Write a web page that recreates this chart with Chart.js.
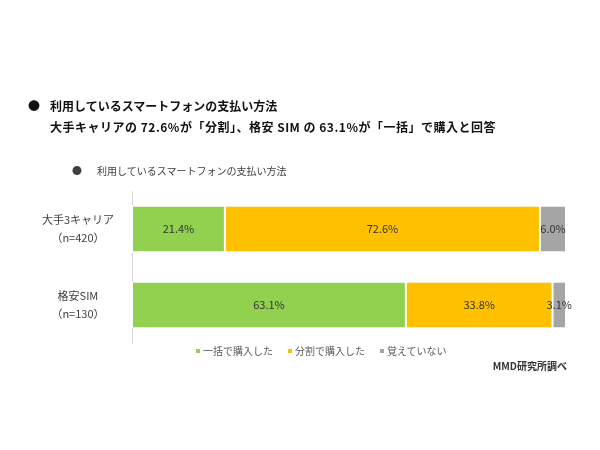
<!DOCTYPE html>
<html>
<head>
<meta charset="utf-8">
<script src="https://cdn.jsdelivr.net/npm/chart.js@4"></script>
<style>
  body { margin: 0; background: #fff; font-family: "Noto Sans CJK JP", "Noto Sans", sans-serif; }
  #wrap { position: relative; width: 600px; height: 450px; }
  #wrap canvas { position: absolute; left: 0; top: 0; }
  .t { position: absolute; white-space: nowrap; line-height: 1; }
  .head { font-size: 12px; font-weight: bold; color: #111; }
  .sub { font-size: 10px; color: #404040; }
  .note { font-size: 10px; color: #333; font-weight: bold; }
  #legend { position: absolute; left: 196px; top: 344px; display: flex; gap: 15px;
            font-size: 10px; color: #595959; line-height: 14px; white-space: nowrap; }
  #legend span.box { display: inline-block; width: 4px; height: 4px; margin-right: 3px; vertical-align: 2px; }
</style>
</head>
<body>
<div id="wrap">
  <canvas id="chart" width="600" height="450"></canvas>
  <div class="t head" style="left:28px; top:100px;">●</div>
  <div class="t head" style="left:50px; top:100px;">利用しているスマートフォンの支払い方法</div>
  <div class="t head" style="left:50px; top:121px; letter-spacing:0.5px;">大手キャリアの 72.6%が「分割」、格安 SIM の 63.1%が「一括」で購入と回答</div>
  <div class="t sub" style="left:72px; top:166px;">●</div>
  <div class="t sub" style="left:97px; top:166px;">利用しているスマートフォンの支払い方法</div>
  <div id="legend"></div>
  <div class="t note" style="right:33px; top:361px;">MMD研究所調べ</div>
</div>
<script>
const categories = [['大手3キャリア', '（n=420）'], ['格安SIM', '（n=130）']];
const seriesNames = ['一括で購入した', '分割で購入した', '覚えていない'];
const lumpSum = [21.4, 63.1];
const installment = [72.6, 33.8];
const dontRemember = [6.0, 3.1];
const colors = ['#92d050', '#ffc000', '#a5a5a5'];

// value labels centred in each segment
const segmentLabels = {
    id: 'segmentLabels',
    afterDatasetsDraw(chart) {
        const ctx = chart.ctx;
        ctx.save();
        ctx.font = '11px "Noto Sans CJK JP", sans-serif';
        ctx.fillStyle = '#333';
        ctx.textAlign = 'center';
        ctx.textBaseline = 'middle';
        chart.data.datasets.forEach((ds, i) => {
            chart.getDatasetMeta(i).data.forEach((bar, j) => {
                const p = bar.getProps(['x', 'y', 'base'], true);
                ctx.fillText(ds.data[j].toFixed(1) + '%', (p.x + p.base) / 2, p.y);
            });
        });
        ctx.restore();
    }
};

const ctx = document.getElementById('chart').getContext('2d');
const chart = new Chart(ctx, {
    type: 'bar',
    data: {
        labels: categories,
        datasets: [
            { label: seriesNames[0], data: lumpSum, backgroundColor: colors[0] },
            { label: seriesNames[1], data: installment, backgroundColor: colors[1] },
            { label: seriesNames[2], data: dontRemember, backgroundColor: colors[2] }
        ].map(d => Object.assign(d, {
            borderColor: '#fff',
            borderWidth: 1,
            borderSkipped: false,
            categoryPercentage: 1,
            barPercentage: 0.61
        }))
    },
    options: {
        indexAxis: 'y',
        responsive: false,
        animation: false,
        layout: { padding: { left: 0, right: 34, top: 191, bottom: 107 } },
        scales: {
            x: {
                stacked: true,
                min: 0,
                max: 100,
                display: false
            },
            y: {
                stacked: true,
                grid: { display: false },
                border: { display: true, color: '#d9d9d9', width: 1 },
                afterFit: (scale) => { scale.width = 132; },
                ticks: {
                    crossAlign: 'center',
                    padding: 10,
                    color: '#404040',
                    font: { family: '"Noto Sans CJK JP", sans-serif', size: 11, lineHeight: 1.6 }
                }
            }
        },
        plugins: {
            legend: { display: false },
            tooltip: { enabled: false }
        }
    },
    plugins: [segmentLabels]
});

// legend from the chart's datasets
document.getElementById('legend').innerHTML = chart.data.datasets.map(ds =>
    '<span><span class="box" style="background:' + ds.backgroundColor + '"></span>' + ds.label + '</span>'
).join('');
</script>
</body>
</html>
